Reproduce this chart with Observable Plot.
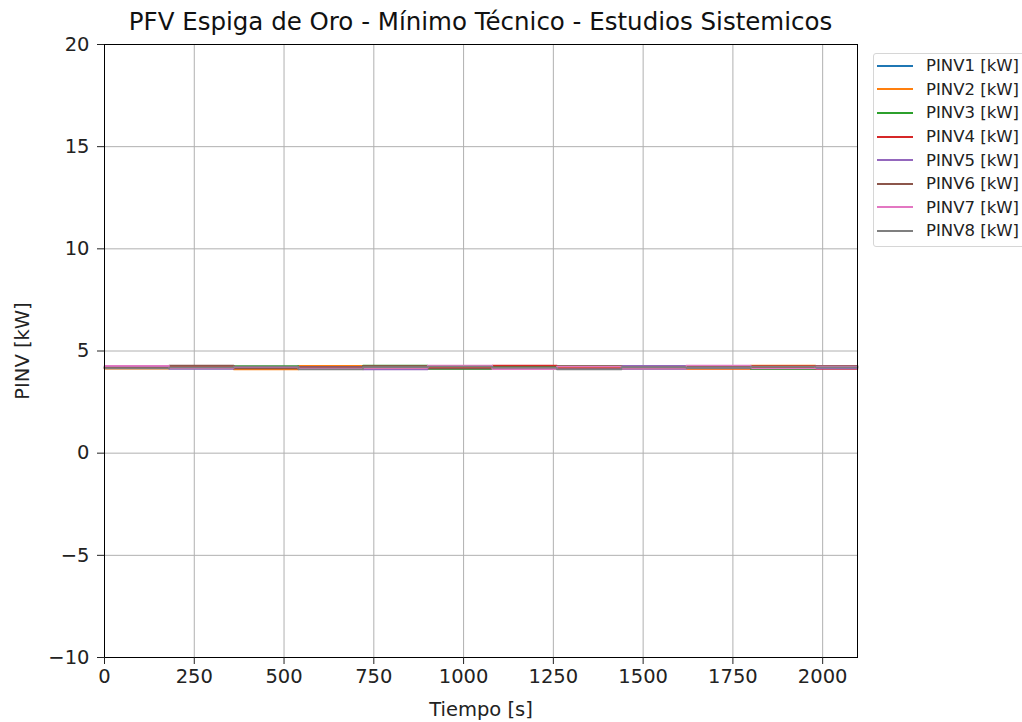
<!DOCTYPE html>
<html>
<head>
<meta charset="utf-8">
<script src="https://cdn.jsdelivr.net/npm/d3@7"></script>
<script src="https://cdn.jsdelivr.net/npm/@observablehq/plot@0.6"></script>
<style>
  body { margin: 0; background: #fff; font-family: "DejaVu Sans", sans-serif; }
  #wrap { position: relative; width: 1022px; height: 722px; overflow: hidden; }
  #title { position: absolute; left: 60px; width: 841px; top: 7px; text-align: center; font-size: 24.5px; color: #111; white-space: nowrap; }
  #chart { position: absolute; left: 0; top: 36px; }
  #legend { position: absolute; left: 873px; top: 53px; width: 160px; border: 1px solid #d6d6d6; border-radius: 3px; background: #fff; padding: 0 0 3px 0; }
  .item { height: 23.6px; display: flex; align-items: center; font-size: 16.5px; color: #222; white-space: nowrap; }
  .sw { width: 36px; height: 0; border-top: 2px solid; margin-left: 3px; margin-right: 13px; flex: none; }
</style>
</head>
<body>
<div id="wrap">
  <div id="title">PFV Espiga de Oro - Mínimo Técnico - Estudios Sistemicos</div>
  <div id="chart"></div>
  <div id="legend"></div>
</div>
<script>
const seriesNames = ["PINV1 [kW]", "PINV2 [kW]", "PINV3 [kW]", "PINV4 [kW]", "PINV5 [kW]", "PINV6 [kW]", "PINV7 [kW]", "PINV8 [kW]"];
const colors = ["#1f77b4", "#ff7f0e", "#2ca02c", "#d62728", "#9467bd", "#8c564b", "#e377c2", "#7f7f7f"];
const times = [0, 180, 360, 540, 720, 900, 1080, 1260, 1440, 1620, 1800, 1980, 2097];
const pinv1 = [4.18, 4.24, 4.12, 4.28, 4.20, 4.14, 4.26, 4.18, 4.11, 4.22, 4.15, 4.25, 4.25];
const pinv2 = [4.13, 4.21, 4.10, 4.27, 4.16, 4.23, 4.12, 4.22, 4.19, 4.12, 4.29, 4.18, 4.18];
const pinv3 = [4.22, 4.15, 4.26, 4.18, 4.29, 4.12, 4.24, 4.28, 4.14, 4.23, 4.11, 4.21, 4.21];
const pinv4 = [4.16, 4.27, 4.20, 4.11, 4.24, 4.17, 4.29, 4.15, 4.24, 4.14, 4.26, 4.12, 4.12];
const pinv5 = [4.24, 4.12, 4.18, 4.23, 4.10, 4.27, 4.17, 4.11, 4.27, 4.18, 4.21, 4.15, 4.15];
const pinv6 = [4.19, 4.29, 4.15, 4.21, 4.26, 4.14, 4.20, 4.26, 4.17, 4.27, 4.18, 4.27, 4.27];
const pinv7 = [4.27, 4.17, 4.23, 4.14, 4.17, 4.29, 4.11, 4.24, 4.12, 4.29, 4.14, 4.24, 4.24];
const pinv8 = [4.15, 4.20, 4.24, 4.10, 4.21, 4.24, 4.18, 4.10, 4.21, 4.16, 4.24, 4.20, 4.20];
const xTicks = [0, 250, 500, 750, 1000, 1250, 1500, 1750, 2000];
const yTicks = [-10, -5, 0, 5, 10, 15, 20];
const allSeries = [pinv1, pinv2, pinv3, pinv4, pinv5, pinv6, pinv7, pinv8];

const data = [];
allSeries.forEach((vals, i) => {
  vals.forEach((v, j) => data.push({ series: seriesNames[i], t: times[j], v }));
});

const chart = Plot.plot({
  width: 1022,
  height: 686,
  marginLeft: 104,
  marginRight: 165,
  marginTop: 8,
  marginBottom: 65,
  style: { fontFamily: "DejaVu Sans, sans-serif", fontSize: "19.5px", color: "#222", background: "#fff", overflow: "visible" },
  x: { domain: [0, 2097] },
  y: { domain: [-10, 20] },
  color: { domain: seriesNames, range: colors },
  marks: [
    Plot.gridX(xTicks, { stroke: "#b0b0b0", strokeOpacity: 1, strokeWidth: 1 }),
    Plot.gridY(yTicks, { stroke: "#b0b0b0", strokeOpacity: 1, strokeWidth: 1 }),
    Plot.line(data, { x: "t", y: "v", z: "series", stroke: "series", strokeWidth: 1.6, curve: "step-after" }),
    Plot.frame({ stroke: "#000", strokeWidth: 1 }),
    Plot.axisX(xTicks, { tickSize: 7, tickPadding: 5, fontSize: 19.5, label: "Tiempo [s]", labelAnchor: "center", labelArrow: "none", labelOffset: 58, tickFormat: d => String(d) }),
    Plot.axisY(yTicks, { tickSize: 7, tickPadding: 8, fontSize: 19.5, label: "PINV [kW]", labelAnchor: "center", labelArrow: "none", labelOffset: 89, tickFormat: d => d < 0 ? "\u2212" + Math.abs(d) : String(d) })
  ]
});
document.getElementById("chart").appendChild(chart);

const legend = document.getElementById("legend");
seriesNames.forEach((name, i) => {
  const item = document.createElement("div");
  item.className = "item";
  const sw = document.createElement("div");
  sw.className = "sw";
  sw.style.borderTopColor = colors[i];
  const label = document.createElement("span");
  label.textContent = name;
  item.appendChild(sw);
  item.appendChild(label);
  legend.appendChild(item);
});
</script>
</body>
</html>
